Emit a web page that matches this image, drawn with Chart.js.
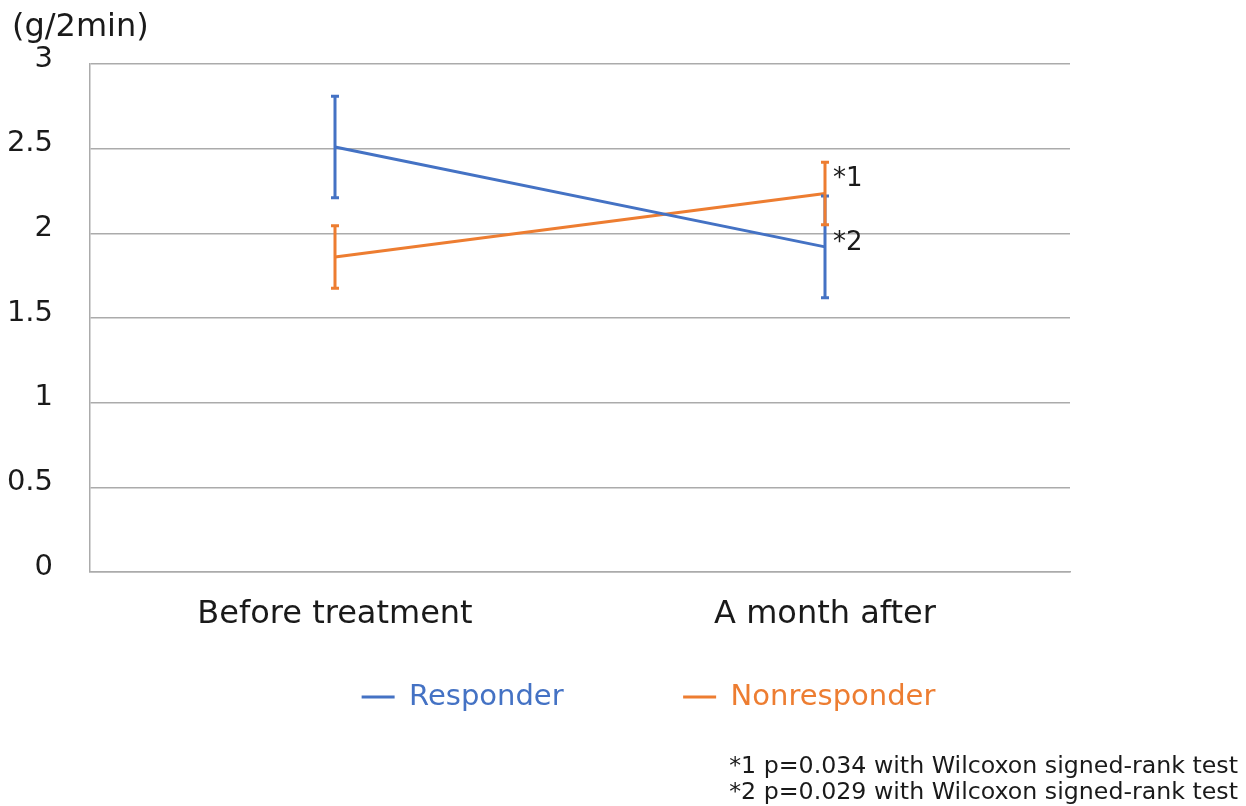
<!DOCTYPE html>
<html>
<head>
<meta charset="utf-8">
<script src="https://cdn.jsdelivr.net/npm/chart.js@4/dist/chart.umd.min.js"></script>
<style>
  html, body { margin: 0; padding: 0; background: #ffffff; }
  canvas { display: block; }
</style>
</head>
<body>
<canvas id="c" width="1246" height="806"></canvas>
<script>
// ---- data ----
const categories = ['Before treatment', 'A month after'];
const responderMean = [2.51, 1.92];
const responderErr = [0.30, 0.30];
const nonresponderMean = [1.86, 2.235];
const nonresponderErr = [0.185, 0.185];
const yTicks = [0, 0.5, 1, 1.5, 2, 2.5, 3];
const yTickLabels = ['0', '0.5', '1', '1.5', '2', '2.5', '3'];
const unitLabel = '(g/2min)';
const pointNotes = [
  { dataset: 1, index: 1, text: '*1' },
  { dataset: 0, index: 1, text: '*2' }
];
const footnotes = [
  '*1 p=0.034 with Wilcoxon signed-rank test',
  '*2 p=0.029 with Wilcoxon signed-rank test'
];

// ---- style ----
const BLUE = '#4472C4';
const ORANGE = '#ED7D31';
const TEXT = '#1a1a1a';
const GRID = '#ababab';
const FONT = "'DejaVu Sans', Verdana, sans-serif";
const noteOffsets = [[8, -14], [8, -4]];

const errorBars = {
  id: 'errorBars',
  afterDatasetsDraw(chart) {
    const ctx = chart.ctx;
    const xs = chart.scales.x, ys = chart.scales.y;
    chart.data.datasets.forEach((ds, i) => {
      ctx.save();
      ctx.strokeStyle = ds.borderColor;
      ctx.lineWidth = 3;
      ds.errors.forEach((e, j) => {
        const x = xs.getPixelForValue(j);
        const yT = ys.getPixelForValue(ds.data[j] + e);
        const yB = ys.getPixelForValue(ds.data[j] - e);
        ctx.beginPath();
        ctx.moveTo(x, yT); ctx.lineTo(x, yB);
        ctx.moveTo(x - 4, yT); ctx.lineTo(x + 4, yT);
        ctx.moveTo(x - 4, yB); ctx.lineTo(x + 4, yB);
        ctx.stroke();
      });
      ctx.restore();
    });
  }
};

const texts = {
  id: 'texts',
  afterDraw(chart) {
    const ctx = chart.ctx;
    const xs = chart.scales.x, ys = chart.scales.y;
    ctx.save();
    ctx.fillStyle = TEXT;
    ctx.textBaseline = 'middle';
    ctx.textAlign = 'left';
    ctx.font = '32px ' + FONT;
    ctx.fillText(unitLabel, 12, 28);
    ctx.font = '26px ' + FONT;
    pointNotes.forEach((n, k) => {
      const ds = chart.data.datasets[n.dataset];
      const x = xs.getPixelForValue(n.index) + noteOffsets[k][0];
      const y = ys.getPixelForValue(ds.data[n.index]) + noteOffsets[k][1];
      ctx.fillText(n.text, x, y);
    });
    ctx.font = '23.7px ' + FONT;
    ctx.textAlign = 'right';
    footnotes.forEach((t, k) => {
      ctx.fillText(t, 1238, 767 + k * 26);
    });
    ctx.restore();
  }
};

new Chart(document.getElementById('c'), {
  type: 'line',
  data: {
    labels: categories,
    datasets: [
      { label: 'Responder', data: responderMean, errors: responderErr,
        borderColor: BLUE, backgroundColor: BLUE, borderWidth: 3,
        pointRadius: 0, tension: 0, fill: false },
      { label: 'Nonresponder', data: nonresponderMean, errors: nonresponderErr,
        borderColor: ORANGE, backgroundColor: ORANGE, borderWidth: 3,
        pointRadius: 0, tension: 0, fill: false }
    ]
  },
  options: {
    responsive: false,
    devicePixelRatio: 1,
    animation: false,
    layout: { padding: { top: 64, left: 0, right: -51, bottom: 84.5 } },
    plugins: {
      tooltip: { enabled: false },
      legend: {
        position: 'bottom',
        labels: {
          font: { family: FONT, size: 29 },
          boxWidth: 33,
          boxHeight: 3,
          padding: 36,
          generateLabels(chart) {
            const items = chart.data.datasets.map((ds, i) => ({
              text: ds.label,
              fillStyle: ds.borderColor,
              strokeStyle: ds.borderColor,
              lineWidth: 0,
              fontColor: ds.borderColor,
              hidden: false,
              datasetIndex: i
            }));
            // transparent spacer between the two entries
            items.splice(1, 0, { text: '', fillStyle: 'rgba(0,0,0,0)', strokeStyle: 'rgba(0,0,0,0)', lineWidth: 0, hidden: false, fontColor: 'rgba(0,0,0,0)' });
            return items;
          }
        }
      }
    },
    scales: {
      x: {
        offset: true,
        grid: { display: false, drawTicks: false },
        border: { display: true, color: GRID, width: 1.5 },
        ticks: { color: TEXT, font: { family: FONT, size: 32 }, padding: 23, maxRotation: 0 },
        afterFit(s) { s.height = 74.5; }
      },
      y: {
        min: 0, max: 3,
        afterBuildTicks(s) { s.ticks = yTicks.map(v => ({ value: v })); },
        grid: { color: GRID, lineWidth: 1.5, drawTicks: false },
        border: { display: true, color: GRID, width: 1.5 },
        ticks: {
          color: TEXT, font: { family: FONT, size: 29 }, padding: 37, labelOffset: -5,
          callback(v) { const k = yTicks.indexOf(v); return k >= 0 ? yTickLabels[k] : ''; }
        },
        afterFit(s) { s.width = 90; }
      },
      y2: {
        position: 'right',
        display: true,
        grid: { display: false, drawTicks: false },
        border: { display: false },
        ticks: { display: false },
        afterFit(s) { s.width = 227; }
      }
    }
  },
  plugins: [errorBars, texts]
});
</script>
</body>
</html>
